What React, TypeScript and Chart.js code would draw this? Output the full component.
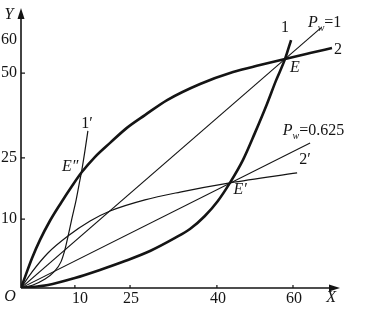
import { useEffect, useRef } from "react";
import { Chart, registerables } from "chart.js";

Chart.register(...registerables);

// Schematic drawing units: both axes run 0..100 (the printed tick labels are not linear)
const xTickPos = [17.0, 34.4, 61.8, 85.8];
const xTickLabels = ["10", "25", "40", "60"];
const yTickPos = [24.8, 46.8, 77.3, 89.2];
const yTickLabels = ["10", "25", "50", "60"];
const yTickMarks = [true, true, true, false];

// Curve 2 (thick, concave)
const curve2X = [0, 1.6, 3.5, 6.0, 9.1, 12.6, 16.1, 19.2, 23.3, 28.1, 33.4, 39.1, 46.1, 56.5, 66.9, 75.4, 83.3, 91.2, 98.1];
const curve2Y = [0, 5.0, 10.8, 17.3, 24.1, 30.6, 36.7, 41.7, 47.1, 52.2, 57.6, 62.2, 67.6, 73.4, 77.7, 80.2, 82.4, 84.5, 86.3];

// Curve 1 (thick, convex)
const curve1X = [0, 8.5, 17.0, 24.9, 32.8, 40.7, 48.6, 53.3, 58.0, 62.1, 65.9, 70.0, 73.8, 77.6, 80.4, 83.3, 85.2];
const curve1Y = [0, 1.1, 3.6, 6.5, 9.7, 13.3, 18.0, 21.2, 25.9, 31.3, 37.8, 46.0, 55.8, 66.2, 74.5, 82.4, 89.2];

// Curve 2' (thin, concave)
const curve2pX = [0, 3.5, 8.5, 14.8, 21.8, 28.1, 39.1, 50.2, 65.9, 87.1];
const curve2pY = [0, 5.8, 12.6, 18.7, 24.1, 27.7, 31.7, 34.5, 37.8, 41.4];

// Curve 1' (thin, convex, steep)
const curve1pX = [0, 3.8, 7.6, 10.4, 12.6, 13.9, 14.8, 16.1, 17.4, 18.3, 19.2, 20.2, 21.1];
const curve1pY = [0, 1.1, 3.2, 5.8, 9.4, 14.0, 18.4, 25.2, 31.7, 37.1, 42.5, 49.6, 56.5];

// Price lines P_w = 1 and P_w = 0.625 (through the origin)
const pw1X = [0, 94.6];
const pw1Y = [0, 93.6];
const pw0625X = [0, 91.2];
const pw0625Y = [0, 52.2];

// Annotation texts (label, x, y in drawing units)
const labelTexts = ["Y", "O", "X", "1", "2", "E", "E′", "2′", "1′", "E″"];
const labelX = [-3.8, -3.5, 97.8, 83.3, 100.0, 86.4, 69.1, 89.6, 20.8, 15.5];
const labelY = [98.2, -3.2, -3.6, 93.5, 85.6, 79.1, 35.3, 46.0, 59.0, 43.5];
const labelItalic = [true, true, true, false, false, true, true, false, false, true];

const priceLabelValues = ["=1", "=0.625"];
const priceLabelX = [90.5, 82.6];
const priceLabelY = [95.3, 56.5];

const zip = (xs: number[], ys: number[]) => xs.map((x, i) => ({ x, y: ys[i] }));

const INK = "#141414";
const FONT = "'Liberation Serif', 'Times New Roman', serif";

export default function App() {
  const ref = useRef<HTMLCanvasElement>(null);

  useEffect(() => {
    if (!ref.current) return;

    const overlay = {
      id: "schematic",
      afterDatasetsDraw(chart: any) {
        const ctx = chart.ctx as CanvasRenderingContext2D;
        const xs = chart.scales.x;
        const ys = chart.scales.y;
        const px = (v: number) => xs.getPixelForValue(v);
        const py = (v: number) => ys.getPixelForValue(v);
        const ox = px(0);
        const oy = py(0);
        const xEnd = px(100);
        const yEnd = py(100);
        ctx.save();
        ctx.strokeStyle = INK;
        ctx.fillStyle = INK;
        ctx.lineWidth = 1.6;
        // axes
        ctx.beginPath();
        ctx.moveTo(ox, oy);
        ctx.lineTo(xEnd - 4, oy);
        ctx.moveTo(ox, oy);
        ctx.lineTo(ox, yEnd + 4);
        ctx.stroke();
        // arrows
        ctx.beginPath();
        ctx.moveTo(xEnd + 2, oy);
        ctx.lineTo(xEnd - 9, oy - 3.5);
        ctx.lineTo(xEnd - 9, oy + 3.5);
        ctx.closePath();
        ctx.fill();
        ctx.beginPath();
        ctx.moveTo(ox, yEnd - 2);
        ctx.lineTo(ox - 3.5, yEnd + 9);
        ctx.lineTo(ox + 3.5, yEnd + 9);
        ctx.closePath();
        ctx.fill();
        // ticks (inside)
        ctx.lineWidth = 1.2;
        ctx.beginPath();
        xTickPos.forEach((t) => {
          ctx.moveTo(px(t), oy);
          ctx.lineTo(px(t), oy - 3);
        });
        yTickPos.forEach((t, i) => {
          if (!yTickMarks[i]) return;
          ctx.moveTo(ox, py(t));
          ctx.lineTo(ox + 4, py(t));
        });
        ctx.stroke();
        // tick labels
        ctx.font = `16px ${FONT}`;
        ctx.textBaseline = "middle";
        ctx.textAlign = "center";
        xTickPos.forEach((t, i) => {
          ctx.fillText(xTickLabels[i], px(t) + (i === 0 ? 5 : 1), oy + 11);
        });
        ctx.textAlign = "right";
        yTickPos.forEach((t, i) => {
          ctx.fillText(yTickLabels[i], ox - 4, py(t));
        });
        // annotation labels
        ctx.textAlign = "center";
        labelTexts.forEach((s, i) => {
          ctx.font = `${labelItalic[i] ? "italic " : ""}16px ${FONT}`;
          ctx.fillText(s, px(labelX[i]), py(labelY[i]));
        });
        // P_w labels
        ctx.textAlign = "left";
        priceLabelValues.forEach((s, i) => {
          let x = px(priceLabelX[i]);
          const y = py(priceLabelY[i]);
          ctx.font = `italic 16px ${FONT}`;
          ctx.fillText("P", x, y);
          x += ctx.measureText("P").width;
          ctx.font = `italic 10px ${FONT}`;
          ctx.fillText("w", x, y + 5);
          x += ctx.measureText("w").width;
          ctx.font = `16px ${FONT}`;
          ctx.fillText(s, x, y);
        });
        ctx.restore();
      },
    };

    const line = (xs: number[], ys: number[], width: number, smooth: boolean) => ({
      data: zip(xs, ys),
      showLine: true,
      borderColor: INK,
      backgroundColor: INK,
      borderWidth: width,
      pointRadius: 0,
      fill: false,
      cubicInterpolationMode: smooth ? ("monotone" as const) : ("default" as const),
      tension: smooth ? 0.4 : 0,
    });

    const chart = new Chart(ref.current, {
      type: "scatter",
      data: {
        datasets: [
          line(curve2X, curve2Y, 2.6, true),
          line(curve1X, curve1Y, 2.6, true),
          line(curve2pX, curve2pY, 1.2, true),
          line(curve1pX, curve1pY, 1.2, true),
          line(pw1X, pw1Y, 1.1, false),
          line(pw0625X, pw0625Y, 1.1, false),
        ] as any,
      },
      options: {
        animation: false,
        responsive: false,
        devicePixelRatio: 1,
        layout: { padding: { left: 21, right: 34, top: 10, bottom: 21 } },
        plugins: { legend: { display: false }, tooltip: { enabled: false } },
        scales: {
          x: { type: "linear", min: 0, max: 100, display: false },
          y: { type: "linear", min: 0, max: 100, display: false },
        },
      },
      plugins: [overlay],
    });

    return () => chart.destroy();
  }, []);

  return (
    <div style={{ position: "fixed", left: 0, top: 0, width: 372, height: 309, background: "#fff" }}>
      <canvas ref={ref} width={372} height={309} />
    </div>
  );
}
